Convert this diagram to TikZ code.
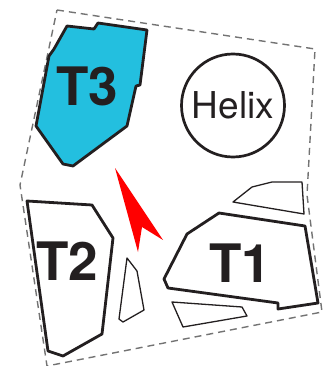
\documentclass[tikz,border=0pt]{standalone}
\usepackage{fontspec}
\setmainfont{TeX Gyre Heros}
\definecolor{ink}{HTML}{231F20}
\definecolor{tcyan}{RGB}{35,191,223}
\begin{document}
\begin{tikzpicture}[x=1pt,y=-1pt,
  thickpoly/.style={draw=ink,line width=2.8pt,line join=round},
  thinpoly/.style={draw=ink,line width=1.3pt,line join=round},
  bigtxt/.style={font=\fontsize{53}{53}\selectfont\bfseries,text=ink,inner sep=0pt},
  border/.style={draw=black!55,line width=1.4pt,dash pattern=on 7pt off 5pt}]
\useasboundingbox (0,0) rectangle (323,366);
% dashed outline
\draw[border] (57,10) -- (315,49) -- (307,195) -- (322,312) -- (47,366) -- (20,185) -- cycle;
% T3
\draw[thickpoly,fill=tcyan] (67,26) -- (94,29) -- (98,23) -- (147,30) -- (140,85) -- (136,86)
  -- (127,126) -- (73,166) -- (63,164) -- (36,126) -- (49,56) -- (54,49) -- cycle;
\node[bigtxt] (t3) at (87,86) {T3};
% Helix
\node[draw=ink,line width=2.7pt,circle,minimum size=103pt,inner sep=0pt,
  font=\fontsize{37}{37}\selectfont,text=ink] (helix) at (233,105.5) {Helix};
% red arrow
\fill[red] (115,168) -- (163,240) -- (142,227) -- (138,252) -- cycle;
% T2
\draw[thickpoly] (27,201) -- (92,205) -- (113,238) -- (102,334) -- (63,356) -- (48,351) -- cycle;
\node[bigtxt] (t2) at (67,261) {T2};
% thin sliver
\draw[thinpoly] (127,258) -- (137,271) -- (144,310) -- (123,322) -- (119,319) -- cycle;
% T1
\draw[thickpoly] (219,213) -- (305,226) -- (318,303) -- (278,309) -- (278,303) -- (168,288)
  -- (164,279) -- (187,234) -- cycle;
\node[bigtxt] (t1) at (240,263) {T1};
% small pieces
\draw[thinpoly] (233,202) -- (252,187) -- (272,182) -- (302,182) -- (304,214) -- cycle;
\draw[thinpoly] (172,302) -- (242,307) -- (247,316) -- (183,327) -- cycle;
\end{tikzpicture}
\end{document}
